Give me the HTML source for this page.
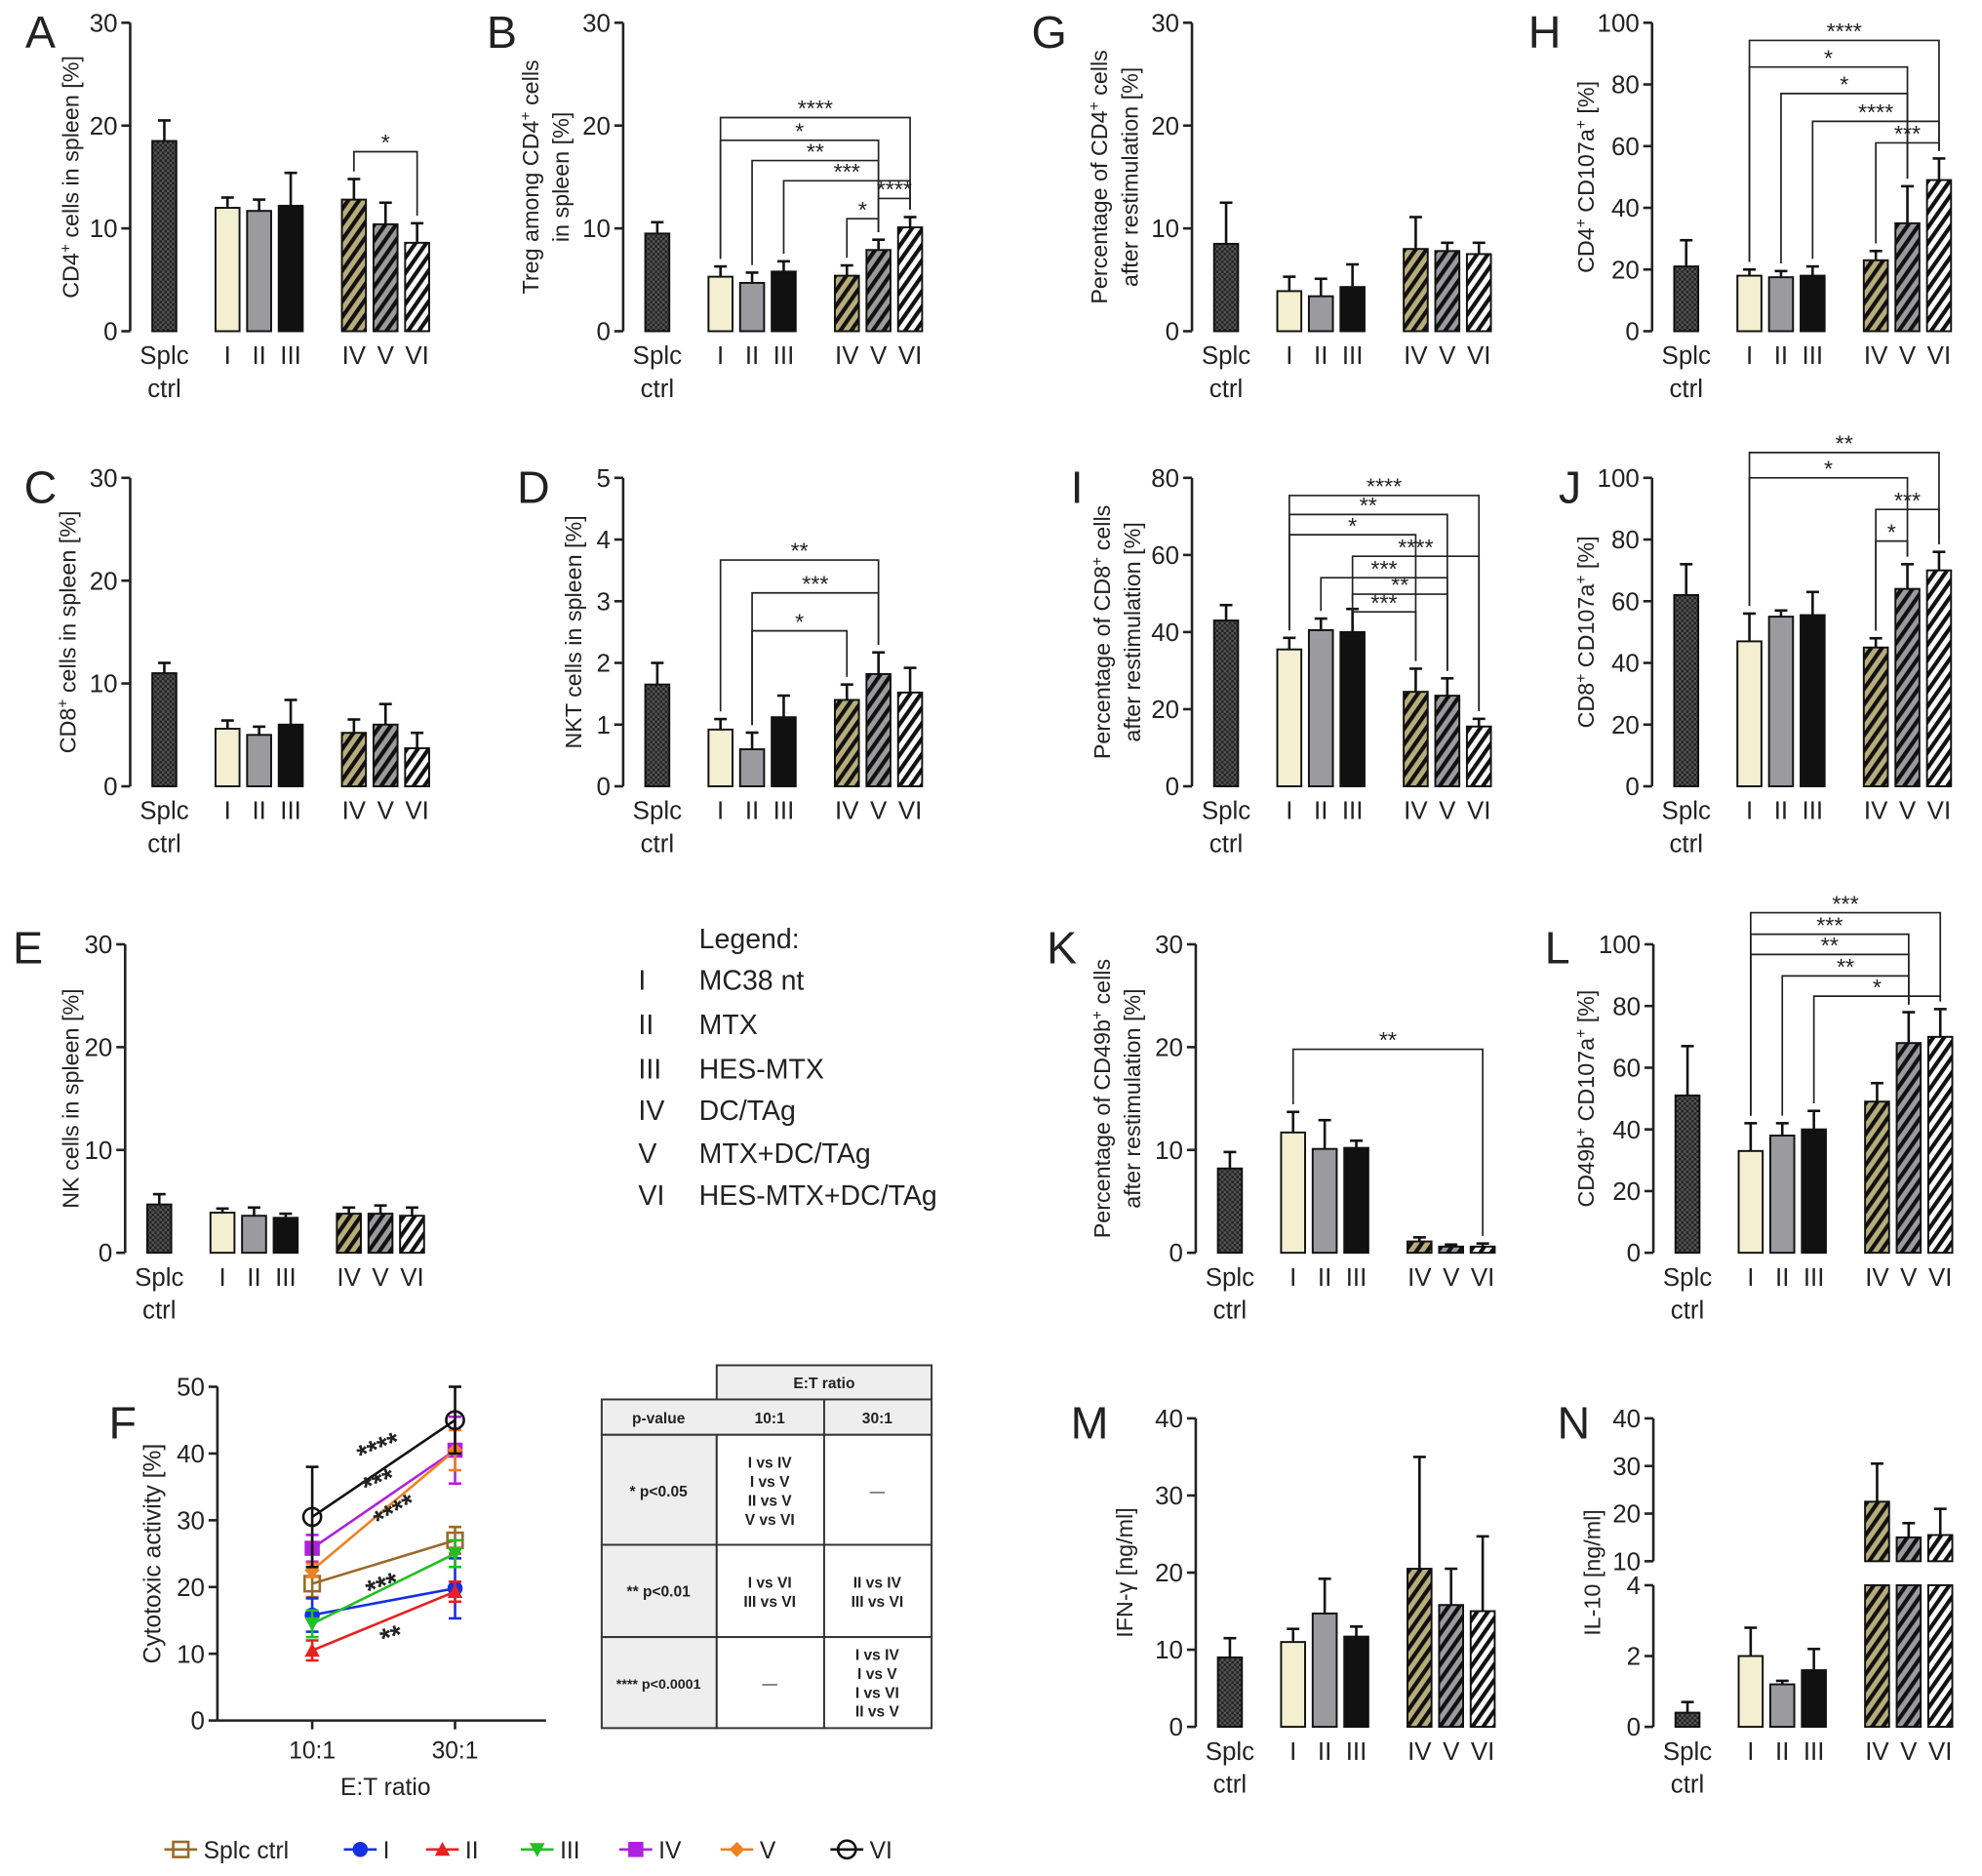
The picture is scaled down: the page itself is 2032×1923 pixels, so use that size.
<!DOCTYPE html>
<html><head><meta charset="utf-8"><style>
html,body{margin:0;padding:0;background:#fff}
svg{display:block;font-family:"Liberation Sans",Arial,sans-serif}
</style></head><body>
<svg id="fig" width="2032" height="1923" viewBox="0 0 1568 1484" preserveAspectRatio="none" xmlns="http://www.w3.org/2000/svg">
<defs>
<pattern id="pSplc" patternUnits="userSpaceOnUse" width="4" height="4"><rect width="4" height="4" fill="#555"/><rect width="2" height="2" fill="#222"/><rect x="2" y="2" width="2" height="2" fill="#222"/></pattern>
<pattern id="pIV" patternUnits="userSpaceOnUse" width="7" height="7" patternTransform="rotate(35)"><rect width="7" height="7" fill="#b8ad7a"/><rect width="3.2" height="7" fill="#111"/></pattern>
<pattern id="pV" patternUnits="userSpaceOnUse" width="7" height="7" patternTransform="rotate(35)"><rect width="7" height="7" fill="#9a9a9f"/><rect width="3.2" height="7" fill="#111"/></pattern>
<pattern id="pVI" patternUnits="userSpaceOnUse" width="7" height="7" patternTransform="rotate(35)"><rect width="7" height="7" fill="#fff"/><rect width="3.2" height="7" fill="#111"/></pattern>
</defs>
</svg>
<script>
// ---- data ----
const groupLabels = ['Splc','I','II','III','IV','V','VI'];
const valsA = [18.5,12,11.7,12.2,12.8,10.4,8.6];
const errA  = [2,1,1.1,3.2,2,2.1,1.9];
const valsB = [9.5,5.3,4.7,5.8,5.4,7.9,10.1];
const errB  = [1.1,1,1,1,1,1,1];
const valsC = [11,5.6,5,6,5.2,6,3.7];
const errC  = [1,0.8,0.8,2.4,1.3,2,1.5];
const valsD = [1.65,0.92,0.6,1.12,1.4,1.82,1.52];
const errD  = [0.35,0.17,0.27,0.35,0.25,0.35,0.4];
const valsE = [4.7,3.9,3.6,3.4,3.8,3.8,3.6];
const errE  = [1,0.4,0.8,0.4,0.6,0.8,0.8];
const valsG = [8.5,3.9,3.4,4.3,8,7.8,7.5];
const errG  = [4,1.4,1.7,2.2,3.1,0.8,1.1];
const valsH = [21,18,17.5,18,23,35,49];
const errH  = [8.5,2,2,3,3,12,7];
const valsI = [43,35.5,40.5,40,24.5,23.5,15.5];
const errI  = [4,3,3,6,6,4.5,2];
const valsJ = [62,47,55,55.5,45,64,70];
const errJ  = [10,9,2,7.5,3,8,6];
const valsK = [8.2,11.7,10.1,10.2,1.1,0.6,0.6];
const errK  = [1.6,2,2.8,0.7,0.4,0.2,0.3];
const valsL = [51,33,38,40,49,68,70];
const errL  = [16,9,4,6,6,10,9];
const valsM = [9,11,14.7,11.7,20.5,15.8,15];
const errM  = [2.5,1.7,4.5,1.3,14.5,4.7,9.7];
const valsN = [0.4,2,1.2,1.6,22.5,15,15.5];
const errN  = [0.3,0.8,0.1,0.6,8,3,5.5];
// significance: [group i, group j, level(px), label]
const sigA = [[4,6,120,'*']];
const sigB = [[1,6,93,'****'],[1,5,111,'*'],[2,5,127,'**'],[3,6,143,'***'],[5,6,157,'****'],[4,5,173,'*']];
const sigD = [[1,5,443,'**'],[2,5,469,'***'],[2,4,499,'*']];
const sigH = [[1,6,32,'****'],[1,5,53,'*'],[2,5,74,'*'],[3,6,96,'****'],[4,6,113,'***']];
const sigI = [[1,6,392,'****'],[1,5,407,'**'],[1,4,423,'*'],[3,6,440,'****'],[2,5,457,'***'],[3,5,470,'**'],[3,4,484,'***']];
const sigJ = [[1,6,358,'**'],[1,5,378,'*'],[4,6,403,'***'],[4,5,428,'*']];
const sigK = [[1,6,830,'**']];
const sigL = [[1,6,722,'***'],[1,5,739,'***'],[1,5,755,'**'],[2,5,772,'**'],[3,6,788,'*']];
// panel F
const fCats = ['10:1','30:1'];
const fNames = ['Splc ctrl','I','II','III','IV','V','VI'];
const fVals = [[20.5,27],[15.8,19.8],[10.5,19.3],[14.5,25],[25.8,40.5],[22.5,40.5],[30.5,45]];
const fErrs = [[2,2],[2.5,4.5],[1.5,1.5],[2,2],[2,5],[1,3],[7.5,5]];
const fTicks = [0,10,20,30,40,50];

const NS='http://www.w3.org/2000/svg';
const svg=document.getElementById('fig');
function el(tag,attrs,parent){const e=document.createElementNS(NS,tag);for(const k in attrs)e.setAttribute(k,attrs[k]);(parent||svg).appendChild(e);return e;}
function txt(s,x,y,size,anchor,parent,extra){const t=el('text',Object.assign({x:x,y:y,'font-size':size,'text-anchor':anchor||'middle',fill:'#222'},extra||{}),parent);t.textContent=s;return t;}
const offs=[27,77,102,127,177,202,227];
const fills=['url(#pSplc)','#f3efd0','#9a9a9f','#111','url(#pIV)','url(#pV)','url(#pVI)'];

function panel(name,ax,top,bot,max,step,vals,errs,sigs,titleLines,titleX,letter,lx,ly){
  const g=el('g',{});
  
  
  const y=v=>bot-(v/max)*(bot-top);
  el('line',{x1:ax,y1:top,x2:ax,y2:bot,stroke:'#222','stroke-width':2},g);
  for(let v=0;v<=max+1e-9;v+=step){
    el('line',{x1:ax-7,y1:y(v),x2:ax,y2:y(v),stroke:'#222','stroke-width':2},g);
    const t=txt(String(v),ax-10,y(v)+7,20,'end',g);
    
    
  }
  vals.forEach((v,i)=>{
    const cx=ax+offs[i];
    const r=el('rect',{x:cx-9.5,y:y(v),width:19,height:bot-y(v),fill:fills[i],stroke:'#111','stroke-width':1.5},g);
    
    
    const et=y(v+errs[i]);
    el('line',{x1:cx,y1:y(v),x2:cx,y2:et,stroke:'#111','stroke-width':2},g);
    el('line',{x1:cx-5,y1:et,x2:cx+5,y2:et,stroke:'#111','stroke-width':2},g);
    const lab=txt(groupLabels[i],cx,bot+26,20,'middle',g);
    
    
  });
  txt('ctrl',ax+offs[0],bot+52,20,'middle',g);
  (sigs||[]).forEach(s=>{
    const x1=ax+offs[s[0]],x2=ax+offs[s[1]],by=s[2];
    const d1=y(vals[s[0]]+errs[s[0]])-6,d2=y(vals[s[1]]+errs[s[1]])-6;
    el('polyline',{points:`${x1},${d1} ${x1},${by} ${x2},${by} ${x2},${d2}`,fill:'none',stroke:'#222','stroke-width':1.3},g);
    const st=txt(s[3],(x1+x2)/2,by-1,18,'middle',g);
    
    
  });
  titleLines.forEach((ln,k)=>{
    const cy=(top+bot)/2;
    const tx=titleX+k*24;
    const t=el('text',{x:tx,y:cy,'font-size':18,'text-anchor':'middle',fill:'#222',transform:`rotate(-90 ${tx} ${cy})`},g);
    
    
    ln.forEach(p=>{const sp=el('tspan',p[1]?{'baseline-shift':'super','font-size':12}:{},t);sp.textContent=p[0];});
  });
  const L=txt(letter,lx,ly,36,'middle',g);
  
  
  return {g,y};
}
panel('a',103,18,262,30,10,valsA,errA,sigA,[[['CD4',0],['+',1],[' cells in spleen [%]',0]]],62,'A',32,38);
panel('b',493,18,262,30,10,valsB,errB,sigB,[[['Treg among CD4',0],['+',1],[' cells',0]],[['in spleen [%]',0]]],426,'B',397,38);
panel('c',103,378,622,30,10,valsC,errC,null,[[['CD8',0],['+',1],[' cells in spleen [%]',0]]],60,'C',32,398);
panel('d',493,378,622,5,1,valsD,errD,sigD,[[['NKT cells in spleen [%]',0]]],460,'D',422,398);
panel('e',99,747,991,30,10,valsE,errE,null,[[['NK cells in spleen [%]',0]]],62,'E',22,762);
panel('g',943,18,262,30,10,valsG,errG,null,[[['Percentage of CD4',0],['+',1],[' cells',0]],[['after restimulation [%]',0]]],876,'G',830,38);
panel('h',1307,18,262,100,20,valsH,errH,sigH,[[['CD4',0],['+',1],[' CD107a',0],['+',1],[' [%]',0]]],1261,'H',1222,38);
panel('i',943,378,622,80,20,valsI,errI,sigI,[[['Percentage of CD8',0],['+',1],[' cells',0]],[['after restimulation [%]',0]]],878,'I',852,398);
panel('j',1307,378,622,100,20,valsJ,errJ,sigJ,[[['CD8',0],['+',1],[' CD107a',0],['+',1],[' [%]',0]]],1261,'J',1242,398);
panel('k',946,747,991,30,10,valsK,errK,sigK,[[['Percentage of CD49b',0],['+',1],[' cells',0]],[['after restimulation [%]',0]]],878,'K',840,762);
panel('l',1308,747,991,100,20,valsL,errL,sigL,[[['CD49b',0],['+',1],[' CD107a',0],['+',1],[' [%]',0]]],1261,'L',1232,762);
panel('m',946,1122,1366,40,10,valsM,errM,null,[[['IFN-γ [ng/ml]',0]]],896,'M',862,1138);

// Panel N (broken axis)
(function(){
  const ax=1308,bot=1366,lowTop=1254,hiBot=1235,hiTop=1122;
  const g=el('g',{});
  
  
  const yl=v=>bot-(v/4)*(bot-lowTop);
  const yh=v=>hiBot-((v-10)/30)*(hiBot-hiTop);
  const yy=v=>v<=4?yl(v):(v>=10?yh(v):lowTop);
  el('line',{x1:ax,y1:lowTop,x2:ax,y2:bot,stroke:'#222','stroke-width':2},g);
  el('line',{x1:ax,y1:hiTop,x2:ax,y2:hiBot,stroke:'#222','stroke-width':2},g);
  [0,2,4].forEach(v=>{el('line',{x1:ax-7,y1:yl(v),x2:ax,y2:yl(v),stroke:'#222','stroke-width':2},g);txt(String(v),ax-10,yl(v)+7,20,'end',g);});
  [10,20,30,40].forEach(v=>{el('line',{x1:ax-7,y1:yh(v),x2:ax,y2:yh(v),stroke:'#222','stroke-width':2},g);txt(String(v),ax-10,yh(v)+7,20,'end',g);});
  valsN.forEach((v,i)=>{
    const cx=ax+offs[i];
    if(v<=4){
      const r=el('rect',{x:cx-9.5,y:yl(v),width:19,height:bot-yl(v),fill:fills[i],stroke:'#111','stroke-width':1.5},g);
      
      
    } else {
      const r=el('rect',{x:cx-9.5,y:lowTop,width:19,height:bot-lowTop,fill:fills[i],stroke:'#111','stroke-width':1.5},g);
      
      
      const r2=el('rect',{x:cx-9.5,y:yh(v),width:19,height:hiBot-yh(v),fill:fills[i],stroke:'#111','stroke-width':1.5},g);
      
      
    }
    const et=yy(v+errN[i]);
    el('line',{x1:cx,y1:yy(v),x2:cx,y2:et,stroke:'#111','stroke-width':2},g);
    el('line',{x1:cx-5,y1:et,x2:cx+5,y2:et,stroke:'#111','stroke-width':2},g);
    txt(groupLabels[i],cx,bot+26,20,'middle',g);
  });
  txt('ctrl',ax+offs[0],bot+52,20,'middle',g);
  const cy=(hiTop+bot)/2,tx=1266;
  const t=txt('IL-10 [ng/ml]',tx,cy,18,'middle',g,{transform:`rotate(-90 ${tx} ${cy})`});
  
  
  txt('N',1245,1138,36,'middle',g);
})();

// Legend text
(function(){
  const g=el('g',{});
  
  
  txt('Legend:',553,750,22,'start',g);
  const rom=['I','II','III','IV','V','VI'];
  const names=['MC38 nt','MTX','HES-MTX','DC/TAg','MTX+DC/TAg','HES-MTX+DC/TAg'];
  const ys=[783,818,853,886,920,953];
  rom.forEach((r,i)=>{txt(r,505,ys[i],22,'start',g);txt(names[i],553,ys[i],22,'start',g);});
})();

// Panel F
const fColors=['#9a6a2a','#1530e0','#e82020','#20c020','#b020e0','#f08020','#111'];
(function(){
  const ax=172,top=1097,bot=1361;
  const g=el('g',{});
  
  
  const y=v=>bot-(v/50)*(bot-top);
  const xs=[247,360];
  el('line',{x1:ax,y1:top,x2:ax,y2:bot,stroke:'#222','stroke-width':2},g);
  el('line',{x1:ax,y1:bot,x2:432,y2:bot,stroke:'#222','stroke-width':2},g);
  fTicks.forEach(v=>{el('line',{x1:ax-7,y1:y(v),x2:ax,y2:y(v),stroke:'#222','stroke-width':2},g);txt(String(v),ax-10,y(v)+7,20,'end',g);});
  fCats.forEach((c,i)=>{el('line',{x1:xs[i],y1:bot,x2:xs[i],y2:bot+7,stroke:'#222','stroke-width':2},g);txt(c,xs[i],bot+30,19,'middle',g);});
  const xt=txt('E:T ratio',305,1420,19,'middle',g);
  
  
  const cy=(top+bot)/2;
  const yt=txt('Cytotoxic activity [%]',127,cy,19,'middle',g,{transform:`rotate(-90 127 ${cy})`});
  
  
  txt('F',97,1138,36,'middle',g);
  function marker(k,x,yv,gg){
    const c=fColors[k];
    if(k==0) return el('rect',{x:x-6,y:yv-6,width:12,height:12,fill:'none',stroke:c,'stroke-width':2},gg);
    if(k==1) return el('circle',{cx:x,cy:yv,r:6,fill:c},gg);
    if(k==2) return el('polygon',{points:`${x},${yv-6} ${x+6},${yv+5} ${x-6},${yv+5}`,fill:c},gg);
    if(k==3) return el('polygon',{points:`${x},${yv+6} ${x+6},${yv-5} ${x-6},${yv-5}`,fill:c},gg);
    if(k==4) return el('rect',{x:x-6,y:yv-6,width:12,height:12,fill:c},gg);
    if(k==5) return el('polygon',{points:`${x},${yv-6} ${x+6},${yv} ${x},${yv+6} ${x-6},${yv}`,fill:c},gg);
    return el('circle',{cx:x,cy:yv,r:7,fill:'none',stroke:c,'stroke-width':2},gg);
  }
  fVals.forEach((vals,k)=>{
    const sg=el('g',{},g);
    
    
    el('line',{x1:xs[0],y1:y(vals[0]),x2:xs[1],y2:y(vals[1]),stroke:fColors[k],'stroke-width':2},sg);
    vals.forEach((v,i)=>{
      const e=fErrs[k][i];
      el('line',{x1:xs[i],y1:y(v-e),x2:xs[i],y2:y(v+e),stroke:fColors[k],'stroke-width':2},sg);
      el('line',{x1:xs[i]-5,y1:y(v+e),x2:xs[i]+5,y2:y(v+e),stroke:fColors[k],'stroke-width':2},sg);
      el('line',{x1:xs[i]-5,y1:y(v-e),x2:xs[i]+5,y2:y(v-e),stroke:fColors[k],'stroke-width':2},sg);
      const m=marker(k,xs[i],y(v),sg);
      
      
    });
  });
  [['****',300,1153,-22],['***',300,1180,-22],['****',313,1203,-30],['***',303,1262,-20],['**',310,1302,-16]].forEach(s=>{
    txt(s[0],s[1],s[2],22,'middle',g,{transform:`rotate(${s[3]} ${s[1]} ${s[2]-6})`,'font-weight':'bold'});
  });
  const lg=el('g',{});
  
  
  const lx=[143,285,350,425,503,583,670];
  fNames.forEach((n,k)=>{
    el('line',{x1:lx[k]-13,y1:1463,x2:lx[k]+13,y2:1463,stroke:fColors[k],'stroke-width':2},lg);
    marker(k,lx[k],1463,lg);
    txt(n,lx[k]+18,1470,19,'start',lg);
  });
})();

// Table
(function(){
  const g=el('g',{});
  
  
  const ry=[1080,1107,1135,1222,1295,1367];
  el('rect',{x:567,y:1080,width:170,height:27,fill:'#eee',stroke:'#333','stroke-width':1.5},g);
  el('rect',{x:476,y:1107,width:261,height:28,fill:'#eee',stroke:'#333','stroke-width':1.5},g);
  for(let r=2;r<5;r++){
    el('rect',{x:476,y:ry[r],width:91,height:ry[r+1]-ry[r],fill:'#eee',stroke:'#333','stroke-width':1.5},g);
    el('rect',{x:567,y:ry[r],width:85,height:ry[r+1]-ry[r],fill:'#fff',stroke:'#333','stroke-width':1.5},g);
    el('rect',{x:652,y:ry[r],width:85,height:ry[r+1]-ry[r],fill:'#fff',stroke:'#333','stroke-width':1.5},g);
  }
  el('line',{x1:652,y1:1107,x2:652,y2:1135,stroke:'#333','stroke-width':1.5},g);
  const B={'font-weight':'bold'};
  txt('E:T ratio',652,1098,12,'middle',g,B);
  txt('p-value',521,1126,12,'middle',g,B);
  txt('10:1',609,1126,12,'middle',g,B);
  txt('30:1',694,1126,12,'middle',g,B);
  txt('* p<0.05',521,1184,12,'middle',g,B);
  txt('** p<0.01',521,1263,12,'middle',g,B);
  txt('**** p<0.0001',521,1336,11,'middle',g,B);
  const cell=(arr,x,y0)=>arr.forEach((s,i)=>txt(s,x,y0+i*15,12,'middle',g,B));
  cell(['I vs IV','I vs V','II vs V','V vs VI'],609,1161);
  txt('—',694,1184,12,'middle',g);
  cell(['I vs VI','III vs VI'],609,1256);
  cell(['II vs IV','III vs VI'],694,1256);
  txt('—',609,1336,12,'middle',g);
  cell(['I vs IV','I vs V','I vs VI','II vs V'],694,1313);
})();
</script>
</body></html>
